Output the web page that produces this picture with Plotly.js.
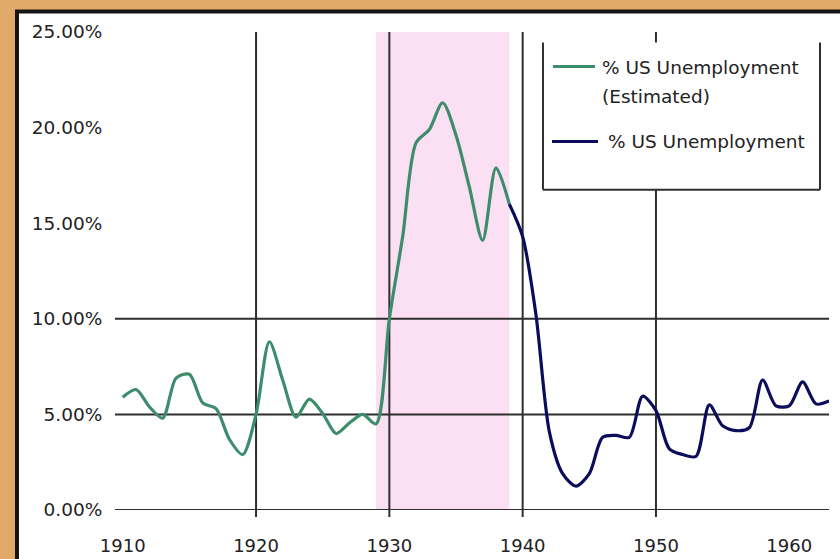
<!DOCTYPE html>
<html>
<head>
<meta charset="utf-8">
<script src="https://cdn.plot.ly/plotly-3.0.1.min.js"></script>
<style>html,body{margin:0;padding:0;background:#e2aa69;}#chart{width:840px;height:559px;}</style>
</head>
<body>
<div id="chart"></div>
<script>
// ---- data ----
const yearsEstimated = [1910,1911,1912,1913,1914,1915,1916,1917,1918,1919,1920,1921,1922,1923,1924,1925,1926,1927,1928,1929,1930,1931,1932,1933,1934,1935,1936,1937,1938,1939];
const unemploymentEstimated = [5.9,6.3,5.4,4.8,6.9,7.1,5.6,5.3,3.7,2.9,5.0,8.8,6.8,4.85,5.8,5.05,4.0,4.55,5.0,4.5,10.0,14.3,19.2,19.9,21.3,19.6,16.9,14.1,17.9,16.0];
const yearsActual = [1939,1940,1941,1942,1943,1944,1945,1946,1947,1948,1949,1950,1951,1952,1953,1954,1955,1956,1957,1958,1959,1960,1961,1962,1963];
const unemploymentActual = [16.0,14.3,10.2,4.1,1.9,1.25,1.9,3.8,3.9,3.8,5.95,5.2,3.2,2.9,2.8,5.5,4.4,4.15,4.3,6.8,5.45,5.45,6.7,5.55,5.7];
const seriesNames = ["% US Unemployment", "(Estimated)", "% US Unemployment"];
const xTickVals = [1910,1920,1930,1940,1950,1960];
const xTickText = ["1910","1920","1930","1940","1950","1960"];
const yTickVals = [0,5,10,15,20,25];
const yTickText = ["0.00%","5.00%","10.00%","15.00%","20.00%","25.00%"];
const verticalGrid = [1920,1930,1940,1950];
const horizontalGrid = [0,5,10];
const depressionSpan = [1929,1939];

const green = '#3d8c6c';
const navy = '#0c0c5c';
const gridColor = '#2e2e2e';
const textColor = '#222222';
const font = 'DejaVu Sans, Arial, sans-serif';

const traces = [
  {x: yearsEstimated, y: unemploymentEstimated, type: 'scatter', mode: 'lines',
   name: seriesNames[0] + ' ' + seriesNames[1],
   line: {color: green, width: 3.2, shape: 'spline', smoothing: 0.8}},
  {x: yearsActual, y: unemploymentActual, type: 'scatter', mode: 'lines',
   name: seriesNames[2],
   line: {color: navy, width: 3.2, shape: 'spline', smoothing: 0.8}}
];

const shapes = [];
// outer frame (white panel with black border)
shapes.push({type:'rect', xref:'paper', yref:'paper', x0:-0.1373, x1:1.2, y0:-0.3, y1:1.0429,
  fillcolor:'#ffffff', line:{color:'#141414', width:4}, layer:'below'});
// shaded depression band
shapes.push({type:'rect', xref:'x', yref:'paper', x0:depressionSpan[0], x1:depressionSpan[1], y0:0, y1:1,
  fillcolor:'#fbdff2', line:{width:0}, layer:'below'});
verticalGrid.forEach(v => shapes.push({type:'line', xref:'x', yref:'paper', x0:v, x1:v, y0:-0.0147, y1:1,
  line:{color:gridColor, width:2}, layer:'below'}));
horizontalGrid.forEach(v => shapes.push({type:'line', xref:'paper', yref:'y', x0:0, x1:1, y0:v, y1:v,
  line:{color:gridColor, width:2}, layer:'below'}));
// legend box (white, three edges)
const lb = {x0:0.5994, x1:0.9874, y0:0.670, y1:0.978};
shapes.push({type:'rect', xref:'paper', yref:'paper', x0:lb.x0, x1:lb.x1, y0:lb.y0, y1:lb.y1,
  fillcolor:'#ffffff', line:{width:0}, layer:'above'});
shapes.push({type:'line', xref:'paper', yref:'paper', x0:lb.x0, x1:lb.x0, y0:lb.y0, y1:lb.y1, line:{color:gridColor, width:2}});
shapes.push({type:'line', xref:'paper', yref:'paper', x0:lb.x1, x1:lb.x1, y0:lb.y0, y1:lb.y1, line:{color:gridColor, width:2}});
shapes.push({type:'line', xref:'paper', yref:'paper', x0:lb.x0, x1:lb.x1, y0:lb.y0, y1:lb.y0, line:{color:gridColor, width:2}});
// legend samples
shapes.push({type:'line', xref:'paper', yref:'paper', x0:(553-115)/714, x1:(595-115)/714, y0:(510-67)/477.5, y1:(510-67)/477.5, line:{color:green, width:3}});
shapes.push({type:'line', xref:'paper', yref:'paper', x0:(552-115)/714, x1:(598-115)/714, y0:(510-142)/477.5, y1:(510-142)/477.5, line:{color:navy, width:3}});

const annFont = {family: font, size: 18.5, color: textColor};
const annotations = [
  {xref:'paper', yref:'paper', x:(600-115)/714, y:(510-68)/477.5, xanchor:'left', yanchor:'middle', text:seriesNames[0], showarrow:false, font:annFont},
  {xref:'paper', yref:'paper', x:(600-115)/714, y:(510-97)/477.5, xanchor:'left', yanchor:'middle', text:seriesNames[1], showarrow:false, font:annFont},
  {xref:'paper', yref:'paper', x:(606-115)/714, y:(510-142)/477.5, xanchor:'left', yanchor:'middle', text:seriesNames[2], showarrow:false, font:annFont}
];

const layout = {
  width: 840, height: 559,
  margin: {l:115, r:11, t:32, b:49, pad:0},
  paper_bgcolor: '#e2aa69',
  plot_bgcolor: 'rgba(0,0,0,0)',
  showlegend: false,
  font: {family: font, size: 18, color: textColor},
  xaxis: {range:[1909.42, 1962.98], tickvals:xTickVals, ticktext:xTickText, showgrid:false, zeroline:false,
          showline:false, ticks:'outside', ticklen:19, tickcolor:'rgba(0,0,0,0)', tickfont:{family:font, size:18, color:textColor}},
  yaxis: {range:[0,25], tickvals:yTickVals, ticktext:yTickText, showgrid:false, zeroline:false,
          showline:false, ticks:'outside', ticklen:8, tickcolor:'rgba(0,0,0,0)', tickfont:{family:font, size:18.5, color:textColor}},
  shapes: shapes,
  annotations: annotations
};

Plotly.newPlot('chart', traces, layout, {displayModeBar:false, staticPlot:true});
</script>
</body>
</html>
